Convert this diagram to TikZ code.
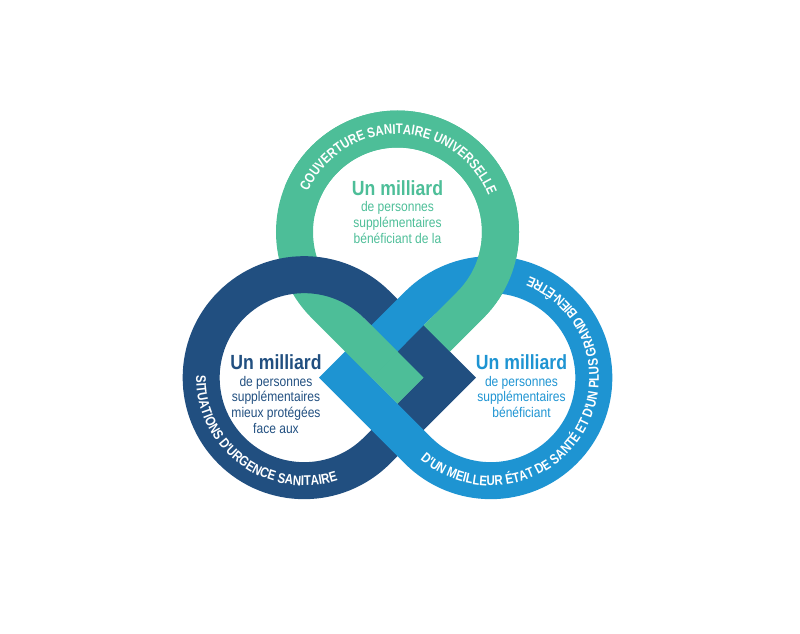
\documentclass[tikz,border=0pt]{standalone}
\usepackage{fontspec}
\setmainfont{Liberation Sans}[FakeStretch=0.86]
\newfontfamily\ringfam{Liberation Sans}[FakeStretch=0.82]
\usetikzlibrary{calc,decorations.text}
\definecolor{cgreen}{HTML}{4DBE98}
\definecolor{cdark}{HTML}{214F80}
\definecolor{clight}{HTML}{1E94D2}
\newcommand\ringfont{\ringfam\fontsize{14}{15}\selectfont\bfseries}
\newcommand\headfont{\fontsize{20.5}{22}\selectfont\bfseries}
\newcommand\bodyfont{\fontsize{14}{16}\selectfont}
\begin{document}
\begin{tikzpicture}[x=1pt,y=1pt,
  loopband/.style={line width=37pt, line join=miter},
  head/.style={anchor=base, inner sep=0pt, font=\headfont},
  body/.style={anchor=base, inner sep=0pt, font=\bodyfont},
  ringtext/.style={decorate, decoration={text along path, text align=center, text color=white, text={|\ringfont|#1}}}]
\useasboundingbox (0,0) rectangle (800,-634);
\def\R{103}
% centres and corners
\coordinate (G) at (397.5,-232);
\coordinate (D) at (304.17,-377.66);
\coordinate (L) at (490.83,-377.66);
\coordinate (CG) at (397.5,-377.66);
\coordinate (CD) at (449.83,-377.66);
\coordinate (CL) at (345.17,-377.66);
\coordinate (C12) at ($(CL)+(45:37)$);
% loops
\draw[loopband,cgreen] (CG) -- ($(G)+(-45:\R)$) arc[start angle=-45,end angle=225,radius=\R] -- cycle;
\draw[loopband,cdark] (CD) -- ($(D)+(45:\R)$) arc[start angle=45,end angle=315,radius=\R] -- cycle;
\draw[loopband,clight] (CL) -- ($(L)+(225:\R)$) arc[start angle=225,end angle=495,radius=\R] -- cycle;
% green over light (upper right crossing): half-plane beyond the dark band's outer edge
\begin{scope}
\clip (98.33,0) -- (800,0) -- (800,-634) -- (732.33,-634) -- cycle;
\draw[loopband,cgreen] (CG) -- ($(G)+(-45:\R)$) arc[start angle=-45,end angle=225,radius=\R] -- cycle;
\end{scope}
% green over light (central cell)
\fill[cgreen] ($(C12)+(45:18.5)+(135:19.5)$) -- ($(C12)+(45:18.5)+(-45:19.5)$) -- ($(C12)+(-135:18.5)+(-45:19.5)$) -- ($(C12)+(-135:18.5)+(135:19.5)$) -- cycle;
% ring texts
\path[ringtext={COUVERTURE SANITAIRE UNIVERSELLE}] ($(G)+(169:98)$) arc[start angle=169,end angle=9,radius=98];
\path[ringtext={SITUATIONS D'URGENCE SANITAIRE}] ($(D)+(133.5:108)$) arc[start angle=133.5,end angle=333.5,radius=108];
\path[ringtext={D'UN MEILLEUR ÉTAT DE SANTÉ ET D'UN PLUS GRAND BIEN-ÊTRE}] ($(L)+(199:108)$) arc[start angle=199,end angle=459,radius=108];
% central texts
\node[head,text=cgreen] (g1) at (397.5,-195.7) {Un milliard};
\node[body,text=cgreen] (g2) at (397.5,-211.7) {de personnes};
\node[body,text=cgreen] (g3) at (397.5,-227.3) {supplémentaires};
\node[body,text=cgreen] (g4) at (397.5,-243) {bénéficiant de la};
\node[head,text=cdark] (d1) at (276,-369.3) {Un milliard};
\node[body,text=cdark] (d2) at (276,-386) {de personnes};
\node[body,text=cdark] (d3) at (276,-401.7) {supplémentaires};
\node[body,text=cdark] (d4) at (276,-417.7) {mieux protégées};
\node[body,text=cdark] (d5) at (276,-433.3) {face aux};
\node[head,text=clight] (l1) at (521.5,-369.3) {Un milliard};
\node[body,text=clight] (l2) at (521.5,-386) {de personnes};
\node[body,text=clight] (l3) at (521.5,-401.7) {supplémentaires};
\node[body,text=clight] (l4) at (521.5,-417.7) {bénéficiant};
\end{tikzpicture}
\end{document}
